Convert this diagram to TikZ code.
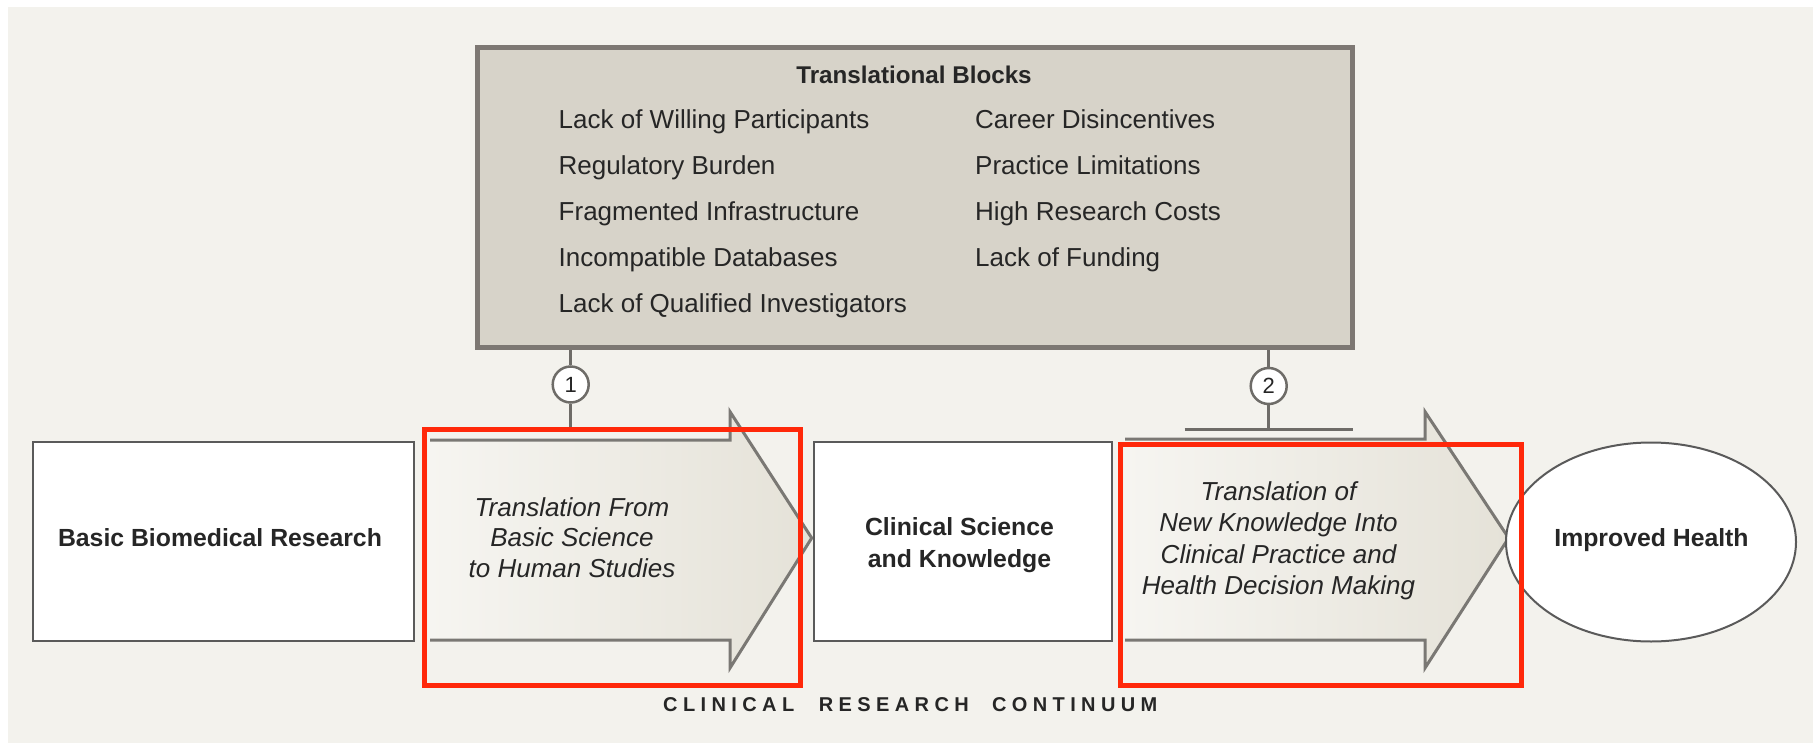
\documentclass[tikz,border=0pt]{standalone}
\usepackage{fontspec}
\setmainfont{Liberation Sans}
\newfontfamily\trackedfont[LetterSpace=27]{Liberation Sans}
\usetikzlibrary{shapes.geometric}

\definecolor{bgbeige}{RGB}{243,242,237}
\definecolor{blockfill}{RGB}{215,211,201}
\definecolor{blockline}{RGB}{125,120,115}
\definecolor{arrowlight}{RGB}{246,245,241}
\definecolor{arrowdark}{RGB}{229,226,216}
\definecolor{arrowline}{RGB}{122,120,116}
\definecolor{boxline}{RGB}{90,90,90}
\definecolor{linkgray}{RGB}{110,108,104}
\definecolor{hilite}{RGB}{255,40,10}
\definecolor{inkgray}{RGB}{38,38,38}

\begin{document}
\begin{tikzpicture}[x=1pt,y=-1pt,
  plainbox/.style={draw=boxline, line width=2pt, fill=white, rectangle, inner sep=0},
  blockpanel/.style={draw=blockline, line width=5pt, fill=blockfill, rectangle, inner sep=0},
  shaftline/.style={draw=arrowline, line width=3pt, line join=miter},
  hilitebox/.style={draw=hilite, line width=5pt},
  link/.style={draw=linkgray, line width=3pt},
  stepnum/.style={circle, draw=linkgray, line width=2.5pt, fill=white, minimum size=36pt, inner sep=0,
    font=\fontsize{22}{26}\selectfont, text=inkgray},
  blockitem/.style={anchor=base west, inner sep=0, font=\fontsize{26}{31}\selectfont, text=inkgray},
  boldlabel/.style={anchor=base, inner sep=0, font=\bfseries\fontsize{24.8}{30}\selectfont, text=inkgray},
  italiclabel/.style={anchor=base, inner sep=0, font=\itshape\fontsize{26}{31}\selectfont, text=inkgray},
  trackedlabel/.style={anchor=base west, inner sep=0, font=\trackedfont\bfseries\fontsize{20}{24}\selectfont, text=inkgray},
]
\useasboundingbox (0,0) rectangle (1820,743);
\fill[white] (0,0) rectangle (1820,743);
\fill[bgbeige] (8,7) rectangle (1813,743);

% panel listing the translational blocks
\node[blockpanel, minimum width=875pt, minimum height=300pt] (blocks) at (915,197.5) {};
\node[boldlabel, font=\bfseries\fontsize{24.2}{30}\selectfont] (blockstitle) at (914,84) {Translational Blocks};
\node[blockitem] (b1) at (558.5,128.5) {Lack of Willing Participants};
\node[blockitem] (b2) at (558.5,174.4) {Regulatory Burden};
\node[blockitem] (b3) at (558.5,220.3) {Fragmented Infrastructure};
\node[blockitem] (b4) at (558.5,266.2) {Incompatible Databases};
\node[blockitem] (b5) at (558.5,312.1) {Lack of Qualified Investigators};
\node[blockitem] (b6) at (975,128.5) {Career Disincentives};
\node[blockitem] (b7) at (975,174.4) {Practice Limitations};
\node[blockitem] (b8) at (975,220.3) {High Research Costs};
\node[blockitem] (b9) at (975,266.2) {Lack of Funding};

% blocking connectors with numbered markers
\node[stepnum] (c1) at (570.7,384.5) {1};
\node[stepnum] (c2) at (1268.7,386) {2};
\coordinate (bar1) at (570.7,430);
\coordinate (bar2) at (1268.7,429);
\draw[link] (blocks.south -| c1) -- (c1.north);
\draw[link] (c1.south) -- (bar1);
\draw[link] (blocks.south -| c2) -- (c2.north);
\draw[link] (c2.south) -- (bar2);
\draw[link] ([xshift=-84pt]bar1) -- ([xshift=86pt]bar1);
\draw[link] ([xshift=-84pt]bar2) -- ([xshift=84pt]bar2);

% first translation arrow
\shade[left color=arrowlight, right color=arrowdark]
  (428,440) -- (730,440) -- (730,411.7) -- (811.7,538) -- (730,668) -- (730,640) -- (428,640) -- cycle;
\draw[shaftline] (430,440) -- (730,440) -- (730,411.7) -- (811.7,538) -- (730,668) -- (730,640) -- (430,640);
\node[italiclabel] (a1l1) at (572,516) {Translation From};
\node[italiclabel] (a1l2) at (572,546.8) {Basic Science};
\node[italiclabel] (a1l3) at (572,577.4) {to Human Studies};

% second translation arrow
\shade[left color=arrowlight, right color=arrowdark]
  (1124,439) -- (1425,439) -- (1425,411.7) -- (1508.6,538) -- (1425,668) -- (1425,640) -- (1124,640) -- cycle;
\draw[shaftline] (1125,439) -- (1425,439) -- (1425,411.7) -- (1508.6,538) -- (1425,668) -- (1425,640) -- (1125,640);
\node[italiclabel] (a2l1) at (1278.5,500.5) {Translation of};
\node[italiclabel] (a2l2) at (1278.5,531.8) {New Knowledge Into};
\node[italiclabel] (a2l3) at (1278.5,563) {Clinical Practice and};
\node[italiclabel] (a2l4) at (1278.5,594) {Health Decision Making};

% stages of the continuum
\node[plainbox, minimum width=381pt, minimum height=199pt] (basic) at (223.2,541.5) {};
\node[boldlabel] (basiclabel) at (220,546) {Basic Biomedical Research};
\node[plainbox, minimum width=298pt, minimum height=199pt] (clinical) at (962.8,541.5) {};
\node[boldlabel] (clinicall1) at (959.5,535) {Clinical Science};
\node[boldlabel] (clinicall2) at (959.5,567.5) {and Knowledge};
\node[ellipse, draw=boxline, line width=2pt, fill=white, minimum width=290pt, minimum height=199pt, inner sep=0] (health) at (1651,542) {};
\node[boldlabel] (healthlabel) at (1651.5,546) {Improved Health};

% axis caption
\node[trackedlabel] (capa) at (663,711) {CLINICAL};
\node[trackedlabel] (capb) at (818.6,711) {RESEARCH};
\node[trackedlabel] (capc) at (991.8,711) {CONTINUUM};

% highlight frames around the two translation steps
\draw[hilitebox] (424,429) rectangle (800.5,685);
\draw[hilitebox] (1120,444) rectangle (1521,685);
\end{tikzpicture}
\end{document}
